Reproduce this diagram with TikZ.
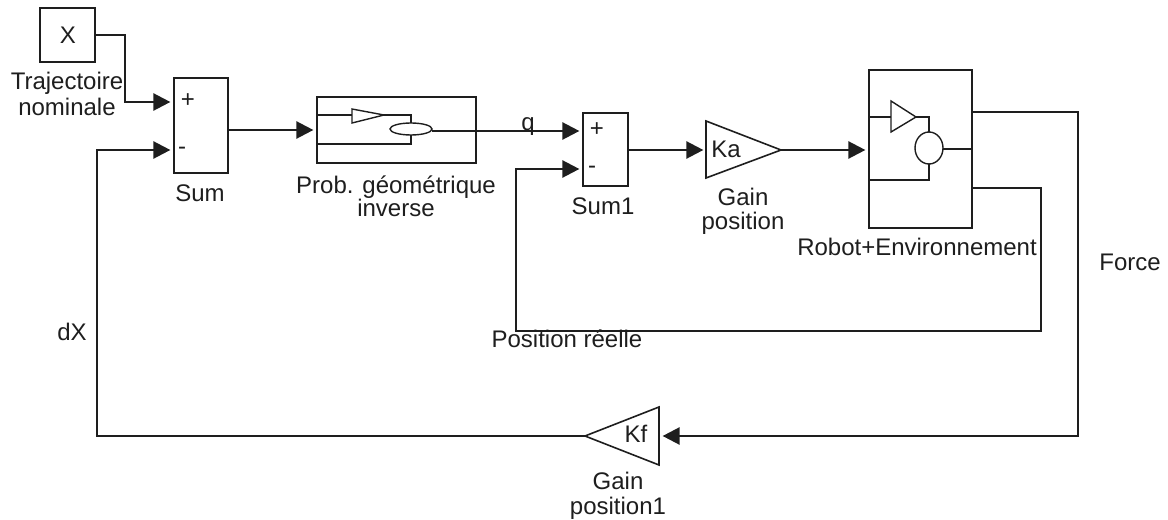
\documentclass[tikz,border=0pt]{standalone}
\usepackage{fontspec}
\setmainfont{Liberation Sans}
\usetikzlibrary{arrows.meta}
\definecolor{ink}{HTML}{1E1E1E}
\tikzset{
 block/.style={draw=ink,line width=1.2pt,inner sep=0pt,anchor=north west},
 lbl/.style={inner sep=0pt,font=\fontsize{18}{18}\selectfont,align=center,text=ink},
 wire/.style={draw=ink,line width=1.2pt,shorten >=2pt,-{Triangle[length=12.75pt,width=13pt]}},
 plain/.style={draw=ink,line width=1.2pt,line join=miter},
 inner wire/.style={draw=ink,line width=1.05pt}
}
\begin{document}
\begin{tikzpicture}[x=0.75pt,y=-0.75pt]
\useasboundingbox (0,0) rectangle (1168,520);
\node[block,minimum width=41.25pt,minimum height=40.5pt] (x) at (39,7) {};
\node[lbl] (xt) at (68,35) {X};
\node[block,minimum width=40.5pt,minimum height=71.25pt] (sum) at (173,77) {};
\node[lbl] (sump) at (188,101) {+};
\node[lbl] (summ) at (182,151) {-};
\node[block,minimum width=119.25pt,minimum height=49.5pt] (pg) at (316,96) {};
\node[block,minimum width=33.75pt,minimum height=54.75pt] (sum1) at (582,112) {};
\node[lbl] (sum1p) at (597,130) {+};
\node[lbl] (sum1m) at (592,170) {-};
\node[block,minimum width=77.25pt,minimum height=118.5pt] (robot) at (868,69) {};
% ports
\coordinate (xO) at (95,35);
\coordinate (sumA) at (173,102); \coordinate (sumB) at (173,150); \coordinate (sumO) at (228,130);
\coordinate (pgI) at (316,130); \coordinate (pgO) at (476,131);
\coordinate (s1A) at (582,131); \coordinate (s1B) at (582,169); \coordinate (s1O) at (628,150);
\coordinate (roI) at (868,150); \coordinate (roF) at (971,112); \coordinate (roP) at (971,188);
% gain triangles
\coordinate (ka1) at (706,121); \coordinate (ka2) at (706,178); \coordinate (ka3) at (781,150);
\draw[plain] (ka1) -- (ka2) -- (ka3) -- cycle;
\coordinate (kaI) at (706,150);
\node[lbl] (kat) at (726,149) {Ka};
\coordinate (kf1) at (659,407); \coordinate (kf2) at (659,465); \coordinate (kf3) at (585,436);
\draw[plain] (kf1) -- (kf2) -- (kf3) -- cycle;
\coordinate (kfI) at (660,436);
\node[lbl] (kft) at (636,434) {Kf};
% internals of the inverse geometry block
\draw[inner wire] (316,115) -- (352,115);
\draw[inner wire] (352,109) -- (352,123) -- (384,115) -- cycle;
\draw[inner wire] (384,115) -- (411,115) -- (411,123);
\draw[inner wire] (411,129) ellipse (21 and 6);
\draw[inner wire] (316,144) -- (411,144) -- (411,135);
% internals of the robot block
\draw[inner wire] (868,117) -- (891,117);
\draw[inner wire] (891,101) -- (891,132) -- (916,117) -- cycle;
\draw[inner wire] (916,117) -- (929,117) -- (929,132);
\draw[inner wire] (929,148) ellipse (14 and 16);
\draw[inner wire] (868,180) -- (929,180) -- (929,164);
\draw[inner wire] (943,149) -- (971,149);
% labels
\node[lbl] (traj) at (67,94) {Trajectoire\\[1.5pt]nominale};
\node[lbl] (sumt) at (200,193) {Sum};
\node[lbl] (pgt) at (396,196) {Prob. géométrique\\[-1pt]inverse};
\node[lbl] (q) at (528,127) {q};
\node[lbl] (sum1t) at (603,206) {Sum1};
\node[lbl] (kal) at (743,211) {Gain\\position};
\node[lbl] (rot) at (917,247) {Robot+Environnement};
\node[lbl] (force) at (1130,262) {Force};
\node[lbl] (dx) at (72,332) {dX};
\node[lbl] (posr) at (567,339) {Position réelle};
\node[lbl] (kfl) at (618,496) {Gain\\[1pt]position1};
% wires
\draw[wire] (xO) -- (125,35) -- (125,102) -- (sumA);
\draw[wire] (kf3) -- (97,436) -- (97,150) -- (sumB);
\draw[wire] (sumO) -- (pgI);
\draw[wire] (432,131) -- (s1A);
\draw[wire] (s1O) -- (kaI);
\draw[wire] (ka3) -- (roI);
\draw[wire] (roP) -- (1041,188) -- (1041,331) -- (516,331) -- (516,169) -- (s1B);
\draw[wire] (roF) -- (1078,112) -- (1078,436) -- (kfI);
\end{tikzpicture}
\end{document}
